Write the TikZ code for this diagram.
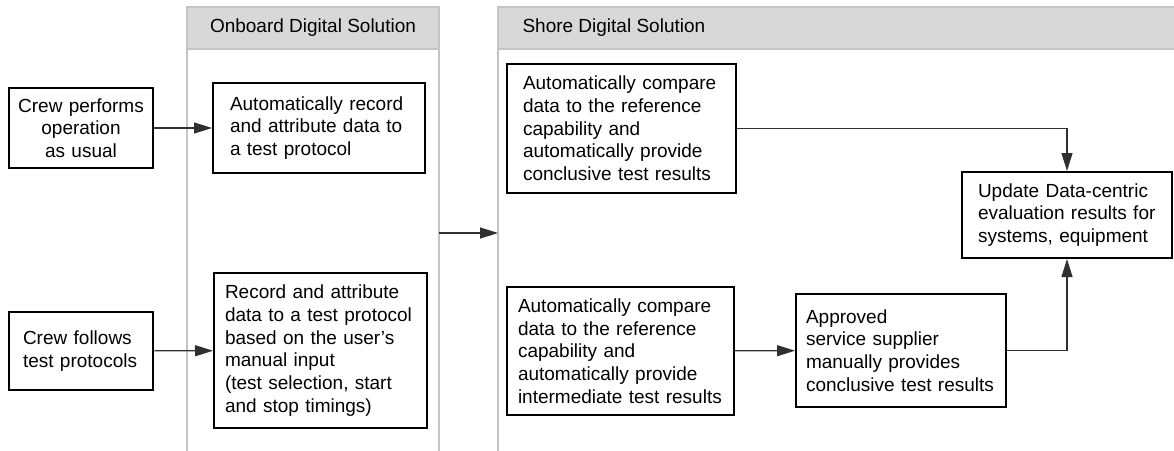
\documentclass[tikz,border=0pt]{standalone}
\usepackage{fontspec}
\setmainfont{Liberation Sans}
\usetikzlibrary{arrows.meta}
\definecolor{hdrfill}{HTML}{D8D8D8}
\definecolor{hdrline}{HTML}{C4C4C4}
\definecolor{conn}{HTML}{303030}
\begin{document}
\begin{tikzpicture}[x=1pt,y=-1pt,
  every node/.style={font=\fontsize{19}{22.7}\selectfont},
  box/.style={draw=black, line width=2pt, fill=white, inner ysep=0pt, align=left,
    execute at begin node={\hyphenpenalty=10000\exhyphenpenalty=10000}},
  hdr/.style={fill=hdrfill, draw=hdrline, line width=2pt},
  lane/.style={draw=hdrline, line width=2.5pt},
  flow/.style={draw=conn, line width=1.2pt, -{Triangle[length=18pt,width=11pt]}}
]
\useasboundingbox (0,0) rectangle (1174,450);
\clip (0,0) rectangle (1174,450);
% lanes
\draw[lane] (187,49) -- (187,455);
\draw[lane] (439,49) -- (439,455);
\draw[lane] (498,49) -- (498,455);
\draw[hdr] (187,7) rectangle (439,49);
\draw[hdr] (498,7) rectangle (1185,49);
\node (hon) at (313,28) {Onboard Digital Solution};
\node[anchor=west] (hsh) at (519,28) {Shore Digital Solution};
% boxes
\node[box, align=center, text width=128pt, inner xsep=8pt, minimum height=80pt] (crew1) at (81,128)
  {Crew performs\\operation\\as usual};
\node[box, text width=178pt, inner xsep=17pt, minimum height=90pt] (rec1) at (319,128)
  {Automatically record\\and attribute data to\\a test protocol};
\node[box, text width=116pt, inner xsep=14pt, minimum height=78pt] (crew2) at (81,351)
  {Crew follows\\test protocols};
\node[box, text width=191pt, inner xsep=11pt, minimum height=155pt] (rec2) at (320.5,350.5)
  {Record and attribute\\data to a test protocol\\based on the user’s\\manual input\\(test selection, start\\and stop timings)};
\node[box, text width=197pt, inner xsep=16pt, minimum height=129pt] (cmp1) at (621.5,128.5)
  {Automatically compare\\data to the reference\\capability and\\automatically provide\\conclusive test results};
\node[box, text width=205pt, inner xsep=11pt, minimum height=128pt] (cmp2) at (620.5,351)
  {Automatically compare\\data to the reference\\capability and\\automatically provide\\intermediate test results};
\node[box, text width=190pt, inner xsep=10pt, minimum height=113pt] (appr) at (901,350.5)
  {Approved\\service supplier\\manually provides\\conclusive test results};
\node[box, text width=178pt, inner xsep=16pt, minimum height=86pt] (upd) at (1067,215)
  {Update Data-centric\\evaluation results for\\systems, equipment};
% connectors
\coordinate (obR) at (439,233);
\coordinate (shL) at (498,233);
\draw[flow] (crew1) -- (rec1);
\draw[flow] (crew2) -- (rec2);
\draw[flow] (obR) -- (shL);
\draw[flow] (cmp2) -- (appr);
\draw[flow] (cmp1.east) -| (upd.north);
\draw[flow] (appr.east) -| (upd.south);
\end{tikzpicture}
\end{document}
